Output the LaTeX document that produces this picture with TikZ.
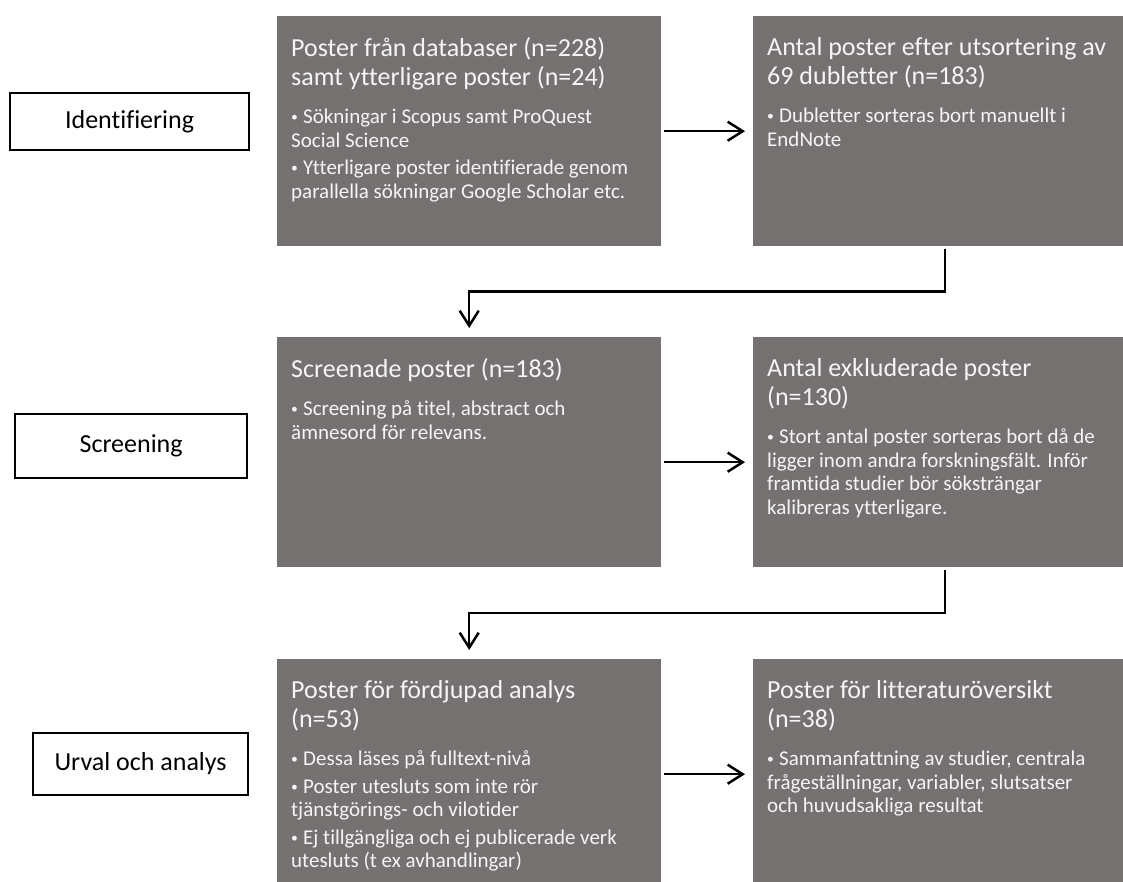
\documentclass[tikz,border=0pt]{standalone}
\usepackage{graphicx}
\usepackage{fontspec}
\setmainfont{Carlito}[Ligatures={NoCommon}]
\usetikzlibrary{arrows.meta,positioning,calc}
\definecolor{slate}{HTML}{767171}
\definecolor{paper}{HTML}{F5F5F5}
\newcommand{\heading}[1]{{\fontsize{26}{29}\selectfont #1\par}\vspace{15pt}}
\newcommand{\bpt}[1]{{\fontsize{21}{23.5}\selectfont\hangindent=12pt\hangafter=1\noindent
  \makebox[12pt][l]{\raisebox{2pt}{\scalebox{0.65}{\textbullet}}}#1\par}\vspace{4pt}}
\newcommand{\stagetext}[1]{\parbox[t][188pt][t]{356pt}{\raggedright #1}}
\tikzset{
  stage/.style={fill=slate,text=paper,anchor=north west,inner xsep=14pt,inner ysep=21pt,
    minimum width=384pt,minimum height=230pt},
  phase/.style={draw=black,line width=1.8pt,fill=white,font=\fontsize{26}{28}\selectfont,
    anchor=east,inner sep=0pt},
  arr/.style={-{Straight Barb[length=15pt,width=19pt]},line width=2.5pt,draw=black,
    shorten <=3pt,shorten >=8pt},
}
\begin{document}
\begin{tikzpicture}[x=1pt,y=-1pt]
  \useasboundingbox[fill=white] (0,0) rectangle (1123,882);
  % process boxes
  \node[stage] (db) at (277,16) {\stagetext{%
    \heading{Poster från databaser (n=228)\\samt ytterligare poster (n=24)}
    \bpt{Sökningar i Scopus samt ProQuest\\Social Science}
    \bpt{Ytterligare poster identifierade genom\\parallella sökningar Google Scholar etc.}}};
  \node[stage] (dup) at (753,16) {\stagetext{%
    \heading{Antal poster efter utsortering av\\69 dubletter (n=183)}
    \bpt{Dubletter sorteras bort manuellt i\\EndNote}}};
  \node[stage] (scr) at (277,337) {\stagetext{%
    \heading{Screenade poster (n=183)}
    \bpt{Screening på titel, abstract och\\ämnesord för relevans.}}};
  \node[stage] (exc) at (753,337) {\stagetext{%
    \heading{Antal exkluderade poster\\(n=130)}
    \bpt{Stort antal poster sorteras bort då de\\ligger inom andra forskningsfält. Inför\\framtida studier bör söksträngar\\kalibreras ytterligare.}}};
  \node[stage] (deep) at (277,659) {\stagetext{%
    \heading{Poster för fördjupad analys\\(n=53)}
    \bpt{Dessa läses på fulltext-nivå}
    \bpt{Poster utesluts som inte rör\\tjänstgörings- och vilotider}
    \bpt{Ej tillgängliga och ej publicerade verk\\utesluts (t ex avhandlingar)}}};
  \node[stage] (lit) at (753,659) {\stagetext{%
    \heading{Poster för litteraturöversikt\\(n=38)}
    \bpt{Sammanfattning av studier, centrala\\frågeställningar, variabler, slutsatser\\och huvudsakliga resultat}}};
  % phase labels
  \node[phase,minimum width=239pt,minimum height=57pt] (idf) at (250,121.5) {Identifiering};
  \node[phase,minimum width=232pt,minimum height=64pt] (scrl) at (248,446) {Screening};
  \node[phase,minimum width=215pt,minimum height=62pt] (urv) at (249,764) {Urval och analys};
  % connectors
  \draw[arr] (db.east) -- (dup.west);
  \draw[arr] ([yshift=-10pt]scr.east) -- ([yshift=-10pt]exc.west);
  \draw[arr] (deep.east) -- (lit.west);
  \draw[arr,shorten >=9pt] (dup.south) |- ($(dup.south)!.5!(scr.north)$) -| (scr.north);
  \draw[arr,shorten >=9pt] (exc.south) |- ($(exc.south)!.5!(deep.north)$) -| (deep.north);
\end{tikzpicture}
\end{document}
